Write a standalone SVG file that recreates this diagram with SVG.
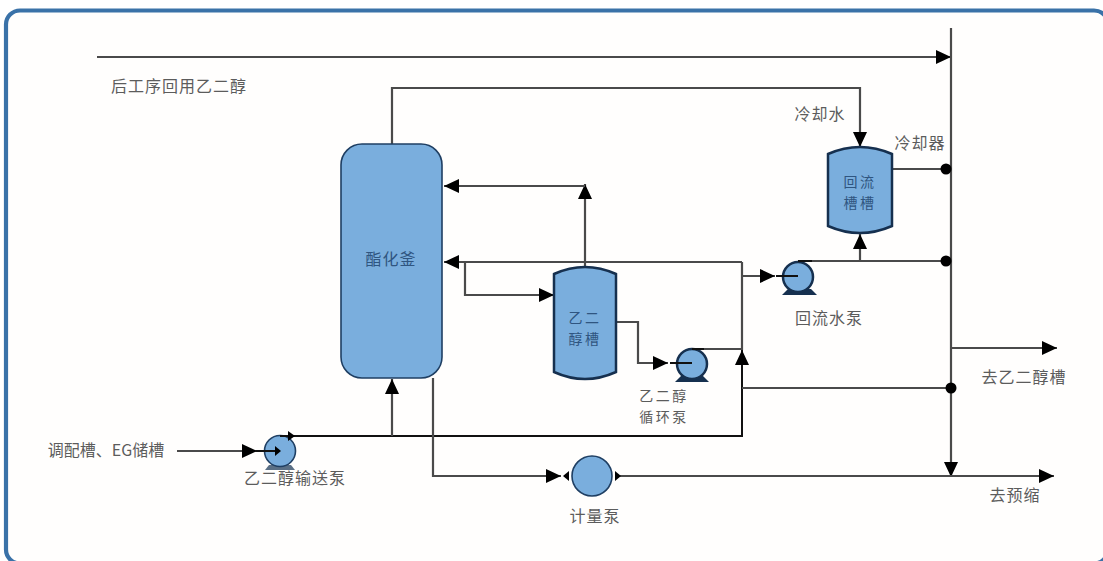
<svg xmlns="http://www.w3.org/2000/svg" width="1103" height="561" viewBox="0 0 1103 561">
<defs>
<marker id="arr" markerUnits="userSpaceOnUse" markerWidth="16" markerHeight="16" refX="15" refY="7" orient="auto"><path d="M0,0L15,7L0,14Z" fill="#000"/></marker>
</defs>
<style>
text{font-family:"Noto Sans CJK SC","Liberation Sans",sans-serif;font-size:16px;letter-spacing:1px;fill:#5c5c5c;text-anchor:middle}
text.n{fill:#2f5580}
text.s{font-size:14px;letter-spacing:2.5px}
.l{fill:none;stroke:#4a4a4a;stroke-width:2.2}
.d{fill:none;stroke:#111;stroke-width:2}
.v{fill:#7aaedd;stroke:#16304f;stroke-width:2.5}
.t{fill:#7aaedd;stroke:#1f3f63;stroke-width:1.6}
</style>
<rect x="6" y="10.5" width="1102" height="553" rx="14" fill="#fffefd" stroke="#3a72a8" stroke-width="4.2"/>
<g id="connectors">
<path class="l" d="M97,57H951" marker-end="url(#arr)"/>
<path class="l" d="M951,28V477" marker-end="url(#arr)"/>
<path class="l" d="M392,144V88H860V147" marker-end="url(#arr)"/>
<path class="l" d="M585,267V184" marker-end="url(#arr)"/>
<path class="l" d="M585,186H444" marker-end="url(#arr)"/>
<path class="l" d="M742,262H444" marker-end="url(#arr)"/>
<path class="l" d="M465,262V295H554" marker-end="url(#arr)"/>
<path class="l" d="M616,322H638V363H668" marker-end="url(#arr)"/>
<path class="l" d="M700,349H742V262"/>
<path class="l" d="M742,276H775" marker-end="url(#arr)"/>
<path class="l" d="M803,261H951"/>
<path class="l" d="M860,261V234" marker-end="url(#arr)"/>
<path class="l" d="M892,169H946"/>
<path class="d" d="M293,436H742V350" marker-end="url(#arr)"/>
<path class="l" d="M742,388H951"/>
<path class="l" d="M392,436V379" marker-end="url(#arr)"/>
<path class="l" d="M433,378V476H561" marker-end="url(#arr)"/>
<path class="l" d="M620,476H1054" marker-end="url(#arr)"/>
<path class="l" d="M951,348H1057" marker-end="url(#arr)"/>
<path class="l" d="M177,451H257" marker-end="url(#arr)"/>
<circle cx="946" cy="169" r="5.5" fill="#000"/>
<circle cx="946" cy="261" r="5.5" fill="#000"/>
<circle cx="951" cy="388" r="5.5" fill="#000"/>
</g>
<g id="reactor"><rect class="t" x="341" y="144" width="101" height="234" rx="21"/><text class="n" x="391" y="265">酯化釜</text></g>
<g id="reflux-tank"><path class="v" d="M828,154Q860,140 892,154V226Q860,240 828,226Z"/><text class="n s" x="860" y="187">回流</text><text class="n s" x="860" y="208">槽槽</text></g>
<g id="eg-tank"><path class="v" d="M554,274Q585,260 616,274V372Q585,386 554,372Z"/><text class="n s" x="585" y="323">乙二</text><text class="n s" x="585" y="344">醇槽</text></g>
<g id="reflux-pump"><path d="M782,295L788,289H811L817,295Z" fill="#16304f"/><circle class="v" cx="798" cy="277" r="15"/><path class="d" d="M776,276H798"/><path class="d" d="M798,261H812"/></g>
<g id="circ-pump"><path d="M675,382L681,376H703L709,382Z" fill="#16304f"/><circle class="v" cx="692" cy="364" r="15"/><path class="d" d="M670,363H692"/><path class="d" d="M692,349H704"/></g>
<g id="feed-pump"><path d="M265,470L269,465H291L295,470Z" fill="#5a6f85"/><circle class="t" cx="280" cy="451" r="15.5"/><path class="d" d="M256,451H276"/><path d="M275,446L281,451L275,456Z" fill="#000"/><path class="d" d="M280,436H290"/><path d="M288,431L295,436L288,441Z" fill="#000"/></g>
<g id="meter-pump"><circle class="t" cx="592" cy="476" r="20"/><path d="M563,476L569,471V481Z" fill="#000"/><path d="M621,476L615,471V481Z" fill="#000"/></g>
<g id="labels">
<text x="179" y="92">后工序回用乙二醇</text>
<text x="820" y="120">冷却水</text>
<text x="920" y="149">冷却器</text>
<text x="829" y="324">回流水泵</text>
<text class="s" x="664" y="401">乙二醇</text>
<text class="s" x="664" y="422">循环泵</text>
<text x="1024" y="383">去乙二醇槽</text>
<text x="1015" y="501">去预缩</text>
<text x="595" y="522">计量泵</text>
<text x="295" y="484">乙二醇输送泵</text>
<text x="106" y="456" style="letter-spacing:0">调配槽、EG储槽</text>
</g>
</svg>
